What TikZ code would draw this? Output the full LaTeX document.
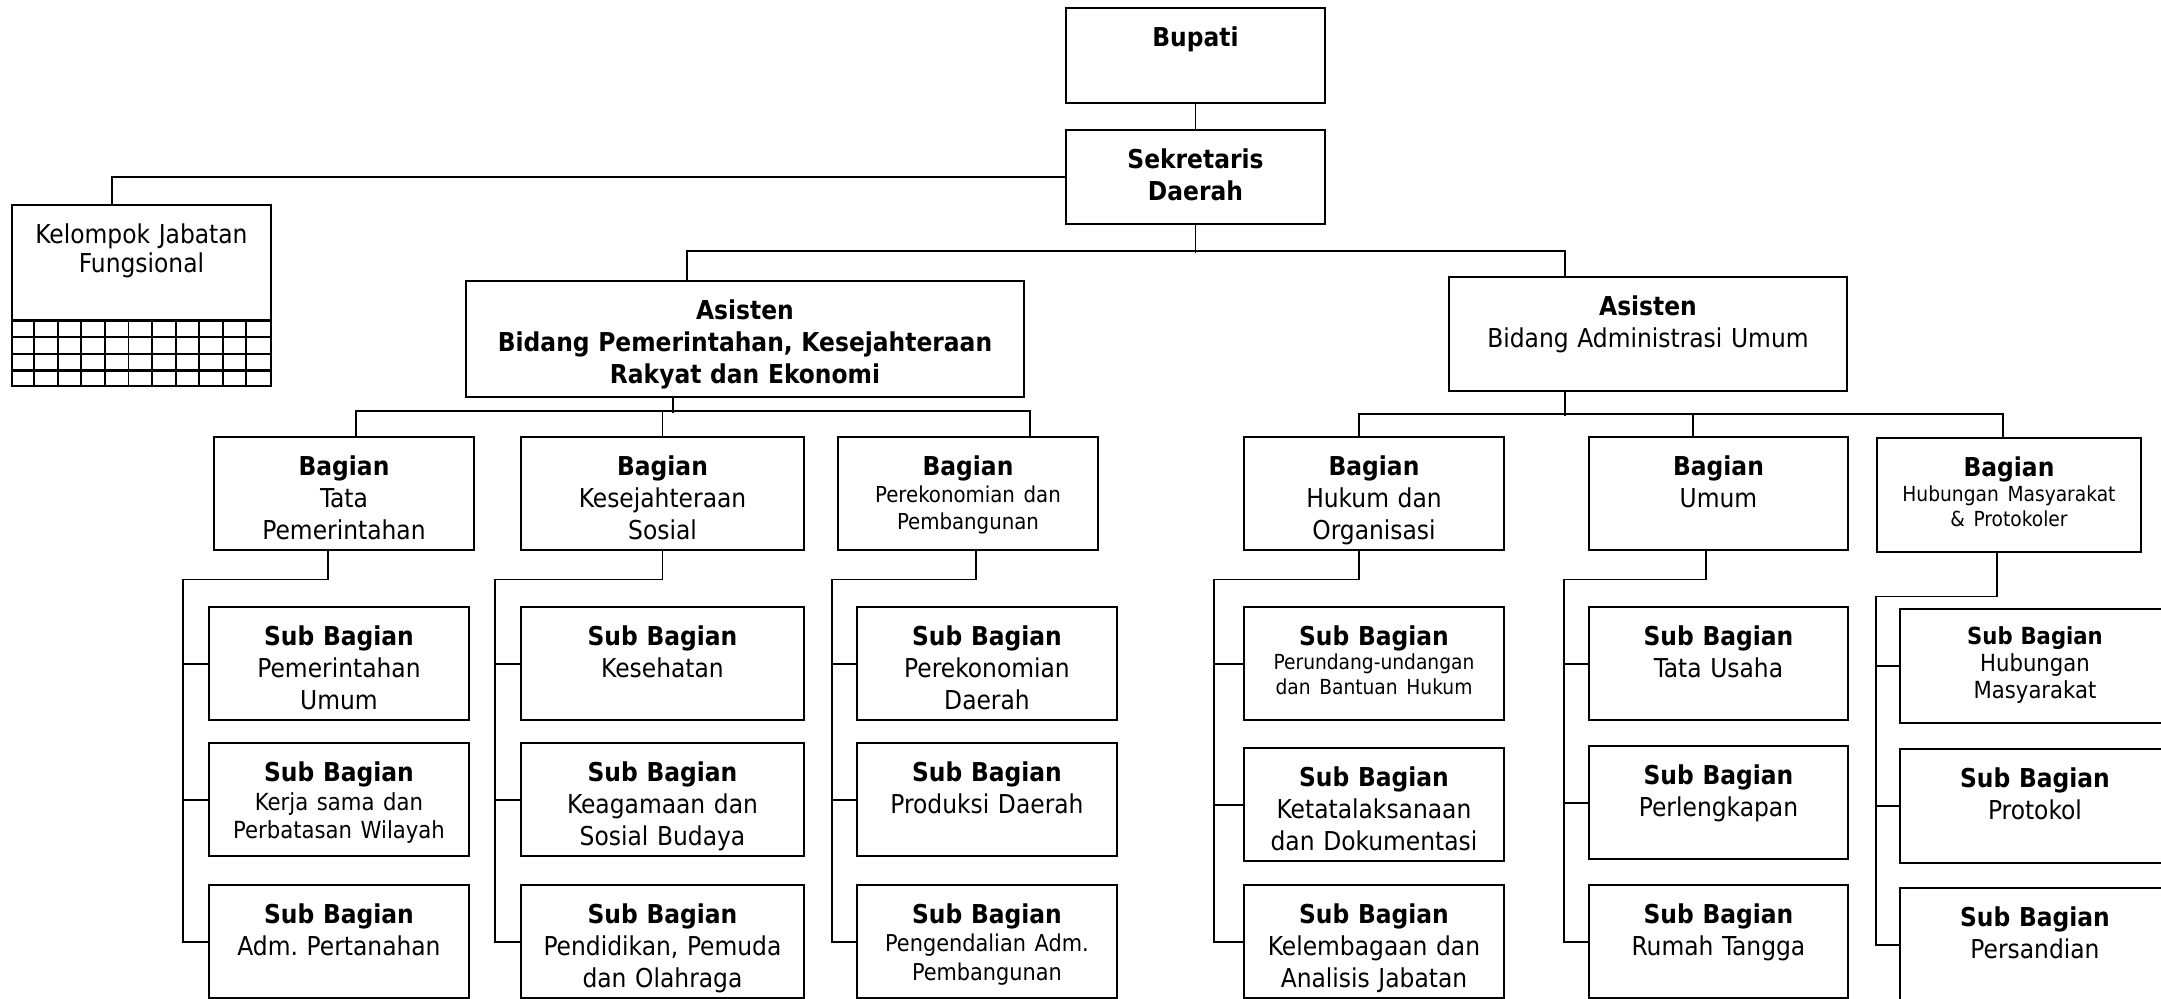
\documentclass[tikz,border=0pt]{standalone}
\usepackage{fontspec}
\setmainfont{DejaVu Sans Condensed}

\begin{document}
\begin{tikzpicture}[
  box/.style={draw, line width=0.7pt, inner sep=0pt, anchor=north, align=center, text width=2.6cm, text height=0.38cm, text depth=0.75cm, font=\fontsize{7.4}{9.1}\selectfont},
  wbox/.style={box, text width=2.83cm},
  link/.style={line width=0.55pt},
  bus/.style={line width=0.7pt}
]
  \useasboundingbox (0,0) rectangle (21.61,-9.98);
  \clip (0,0) rectangle (21.61,-9.98);

  % Pimpinan
  \node[box, text width=2.59cm, text depth=0.57cm] (bupati) at (11.955,-0.07) {\textbf{Bupati}};
  \node[box, text width=2.59cm, text depth=0.56cm] (sekda) at (11.955,-1.29) {\textbf{Sekretaris\\Daerah}};
  \node[box, text width=2.59cm, text depth=1.43cm, font=\fontsize{7.4}{8.3}\selectfont] (kjf) at (1.415,-2.04) {Kelompok Jabatan\\Fungsional};

  % Asisten
  \node[box, text width=5.58cm, text depth=0.78cm] (ast1) at (7.45,-2.80) {\textbf{Asisten\\Bidang Pemerintahan, Kesejahteraan\\Rakyat dan Ekonomi}};
  \node[box, text width=3.98cm, text depth=0.76cm] (ast2) at (16.48,-2.76) {\textbf{Asisten}\\Bidang Administrasi Umum};

  % Bagian
  \node[box] (bTata) at (3.44,-4.36) {\textbf{Bagian}\\Tata\\Pemerintahan};
  \node[wbox] (bKesra) at (6.625,-4.36) {\textbf{Bagian}\\Kesejahteraan\\Sosial};
  \node[box] (bEkon) at (9.68,-4.36) {\textbf{Bagian}\par{\fontsize{6.25}{7.7}\selectfont Perekonomian dan\\Pembangunan\par}};
  \node[box] (bHukum) at (13.74,-4.36) {\textbf{Bagian}\\Hukum dan\\Organisasi};
  \node[box, text width=2.59cm] (bUmum) at (17.185,-4.36) {\textbf{Bagian}\\Umum};
  \node[box, text width=2.64cm, text depth=0.76cm] (bHumas) at (20.09,-4.37) {\textbf{Bagian}\par{\fontsize{5.9}{7.1}\selectfont Hubungan Masyarakat\\\& Protokoler\par}};

  % Sub Bagian
  \node[box] (sA1) at (3.39,-6.06) {\textbf{Sub Bagian}\\Pemerintahan\\Umum};
  \node[box] (sA2) at (3.39,-7.42) {\textbf{Sub Bagian}\par{\fontsize{6.7}{8.2}\selectfont Kerja sama dan\\Perbatasan Wilayah\par}};
  \node[box] (sA3) at (3.39,-8.84) {\textbf{Sub Bagian}\\Adm.\ Pertanahan};

  \node[wbox] (sB1) at (6.625,-6.06) {\textbf{Sub Bagian}\\Kesehatan};
  \node[wbox] (sB2) at (6.625,-7.42) {\textbf{Sub Bagian}\\Keagamaan dan\\Sosial Budaya};
  \node[wbox] (sB3) at (6.625,-8.84) {\textbf{Sub Bagian}\\Pendidikan, Pemuda\\dan Olahraga};

  \node[box] (sC1) at (9.87,-6.06) {\textbf{Sub Bagian}\\Perekonomian\\Daerah};
  \node[box] (sC2) at (9.87,-7.42) {\textbf{Sub Bagian}\\Produksi Daerah};
  \node[box] (sC3) at (9.87,-8.84) {\textbf{Sub Bagian}\par{\fontsize{6.6}{8.1}\selectfont Pengendalian Adm.\\Pembangunan\par}};

  \node[box] (sD1) at (13.74,-6.06) {\textbf{Sub Bagian}\par{\fontsize{5.9}{7}\selectfont Perundang-undangan\\dan Bantuan Hukum\par}};
  \node[box] (sD2) at (13.74,-7.47) {\textbf{Sub Bagian}\\Ketatalaksanaan\\dan Dokumentasi};
  \node[box] (sD3) at (13.74,-8.84) {\textbf{Sub Bagian}\\Kelembagaan dan\\Analisis Jabatan};

  \node[box, text width=2.59cm] (sE1) at (17.185,-6.06) {\textbf{Sub Bagian}\\Tata Usaha};
  \node[box, text width=2.59cm] (sE2) at (17.185,-7.45) {\textbf{Sub Bagian}\\Perlengkapan};
  \node[box, text width=2.59cm] (sE3) at (17.185,-8.84) {\textbf{Sub Bagian}\\Rumah Tangga};

  \node[box, text width=2.7cm, text height=0.35cm, text depth=0.79cm, font=\fontsize{6.7}{7.7}\selectfont] (sF1) at (20.35,-6.08) {\textbf{Sub Bagian}\\Hubungan\\Masyarakat};
  \node[box, text width=2.7cm, text depth=0.76cm] (sF2) at (20.35,-7.48) {\textbf{Sub Bagian}\\Protokol};
  \node[box, text width=2.7cm, text depth=0.76cm] (sF3) at (20.35,-8.87) {\textbf{Sub Bagian}\\Persandian};

  % Garis komando atas
  \draw[link] (bupati.south) -- (sekda.north);
  \draw[link] (sekda.west) -| ([xshift=-0.295cm]kjf.north);
  \foreach \y in {0.1675,0.335,0.5025}
    \draw[bus] ([yshift=\y cm]kjf.south west) -- ([yshift=\y cm]kjf.south east);
  \draw[bus] ([yshift=0.67cm]kjf.south west) -- ([yshift=0.67cm]kjf.south east);
  \foreach \x in {1,...,10}
    \draw[link] ([xshift=\x*0.2355cm]kjf.south west) -- ++(0,0.67);

  \draw[link] (sekda.south) -- ++(0,-0.28);
  \draw[bus] ([xshift=-0.58cm]ast1.north) -- ++(0,0.29) -| ([xshift=-0.83cm]ast2.north);

  % Asisten ke Bagian
  \draw[link] ([xshift=-0.72cm]ast1.south) -- ++(0,-0.15);
  \draw[bus] ([xshift=0.12cm]bTata.north) -- ++(0,0.25) -| ([xshift=0.62cm]bEkon.north);
  \draw[link] (bKesra.north) -- ++(0,0.25);

  \draw[link] ([xshift=-0.83cm]ast2.south) -- ++(0,-0.24);
  \draw[bus] ([xshift=-0.15cm]bHukum.north) -- ++(0,0.22) -| ([xshift=-0.06cm]bHumas.north);
  \draw[link] ([xshift=-0.255cm]bUmum.north) -- ++(0,0.22);

  % Bagian ke Sub Bagian
  \draw[link] ([xshift=-0.16cm]bTata.south) -- ++(0,-0.28) -| ([xshift=-0.25cm]sA3.west) -- (sA3.west);
  \foreach \s in {sA1,sA2} \draw[link] (\s.west) -- ++(-0.25,0);

  \draw[link] (bKesra.south) -- ++(0,-0.28) -| ([xshift=-0.25cm]sB3.west) -- (sB3.west);
  \foreach \s in {sB1,sB2} \draw[link] (\s.west) -- ++(-0.25,0);

  \draw[link] ([xshift=0.08cm]bEkon.south) -- ++(0,-0.28) -| ([xshift=-0.24cm]sC3.west) -- (sC3.west);
  \foreach \s in {sC1,sC2} \draw[link] (\s.west) -- ++(-0.24,0);

  \draw[link] ([xshift=-0.15cm]bHukum.south) -- ++(0,-0.28) -| ([xshift=-0.29cm]sD3.west) -- (sD3.west);
  \foreach \s in {sD1,sD2} \draw[link] (\s.west) -- ++(-0.29,0);

  \draw[link] ([xshift=-0.125cm]bUmum.south) -- ++(0,-0.28) -| ([xshift=-0.24cm]sE3.west) -- (sE3.west);
  \foreach \s in {sE1,sE2} \draw[link] (\s.west) -- ++(-0.24,0);

  \draw[link] ([xshift=-0.12cm]bHumas.south) -- ++(0,-0.43) -| ([xshift=-0.23cm]sF3.west) -- (sF3.west);
  \foreach \s in {sF1,sF2} \draw[link] (\s.west) -- ++(-0.23,0);
\end{tikzpicture}
\end{document}
